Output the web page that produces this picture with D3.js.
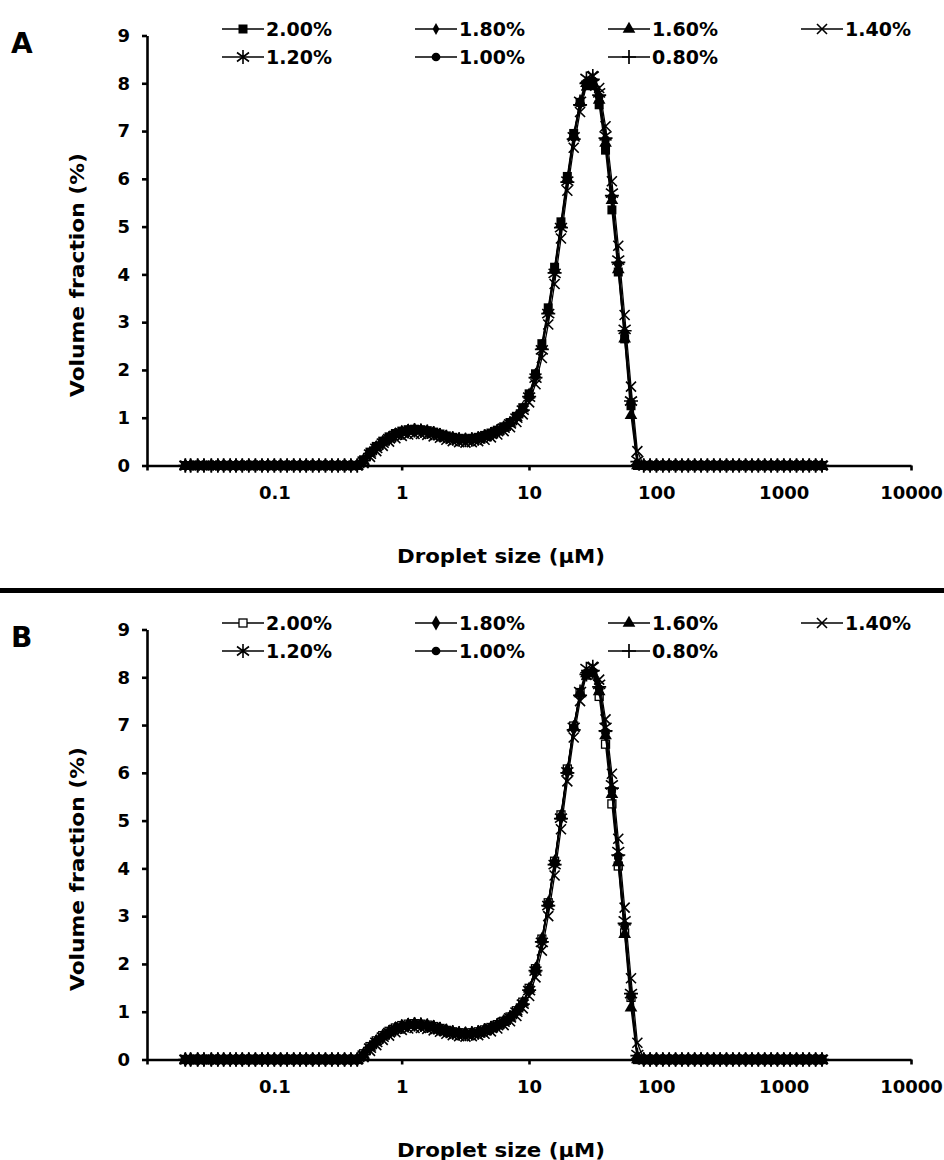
<!DOCTYPE html>
<html><head><meta charset="utf-8">
<script src="https://cdn.jsdelivr.net/npm/d3@7"></script>
<style>body{margin:0;background:#fff}svg{display:block}</style>
</head><body>
<svg id="chart" width="944" height="1160"></svg>
<script>
// Droplet size bins (µm)
const sizes = [
0.020,0.022,0.025,0.028,0.032,0.036,0.040,0.045,0.050,0.056,
0.063,0.071,0.080,0.089,0.100,0.112,0.126,0.142,0.159,0.178,
0.200,0.224,0.252,0.283,0.317,0.356,0.399,0.448,0.502,0.564,
0.632,0.710,0.796,0.893,1.002,1.125,1.262,1.416,1.589,1.783,
2.000,2.244,2.518,2.825,3.170,3.557,3.991,4.477,5.024,5.637,
6.325,7.096,7.962,8.934,10.024,11.247,12.619,14.159,15.887,17.825,
20.000,22.440,25.179,28.251,31.698,35.566,39.905,44.774,50.238,56.368,
63.246,70.963,79.621,89.337,100.237,112.468,126.191,141.589,158.866,178.250,
200.000,224.404,251.785,282.508,316.979,355.656,399.052,447.744,502.377,563.677,
632.456,709.627,796.214,893.367,1002.374,1124.683,1261.915,1415.892,1588.656,1782.502,
2000.000];

const seriesNames = ["2.00%","1.80%","1.60%","1.40%","1.20%","1.00%","0.80%"];
const xTicks = [0.01,0.1,1,10,100,1000,10000];
const xTickLabels = ["","0.1","1","10","100","1000","10000"];
const yTicks = [0,1,2,3,4,5,6,7,8,9];

// Panel A volume fractions (%)
const a200 = [0,0,0,0,0,0,0,0,0,0,0,0,0,0,0,0,0,0,0,0,0,0,0,0,0,0,0,0,
0.12,0.28,0.40,0.51,0.60,0.67,0.72,0.75,0.76,0.75,0.73,0.70,0.66,0.62,0.59,0.57,0.56,0.57,0.59,0.63,0.68,0.74,0.81,0.90,1.03,1.21,1.50,1.92,2.55,3.30,4.15,5.10,6.05,6.95,7.60,7.95,7.95,7.55,6.60,5.35,4.05,2.65,1.25,0.00,
0,0,0,0,0,0,0,0,0,0,0,0,0,0,0,0,0,0,0,0,0,0,0,0,0,0,0,0,0];
const a180 = [0,0,0,0,0,0,0,0,0,0,0,0,0,0,0,0,0,0,0,0,0,0,0,0,0,0,0,0,
0.10,0.25,0.37,0.48,0.57,0.64,0.69,0.72,0.74,0.73,0.71,0.68,0.64,0.60,0.57,0.55,0.54,0.55,0.57,0.61,0.66,0.72,0.79,0.88,1.00,1.17,1.45,1.85,2.45,3.20,4.05,5.00,5.95,6.85,7.55,8.00,8.05,7.70,6.80,5.60,4.20,2.80,1.30,0.05,
0,0,0,0,0,0,0,0,0,0,0,0,0,0,0,0,0,0,0,0,0,0,0,0,0,0,0,0,0];
const a160 = [0,0,0,0,0,0,0,0,0,0,0,0,0,0,0,0,0,0,0,0,0,0,0,0,0,0,0,0,
0.10,0.26,0.38,0.49,0.58,0.65,0.70,0.73,0.74,0.73,0.71,0.68,0.64,0.60,0.57,0.55,0.54,0.55,0.57,0.61,0.66,0.72,0.79,0.89,1.01,1.19,1.48,1.90,2.50,3.25,4.10,5.05,6.00,6.90,7.60,8.00,8.00,7.65,6.75,5.55,4.10,2.65,1.05,0.00,
0,0,0,0,0,0,0,0,0,0,0,0,0,0,0,0,0,0,0,0,0,0,0,0,0,0,0,0,0];
const a140 = [0,0,0,0,0,0,0,0,0,0,0,0,0,0,0,0,0,0,0,0,0,0,0,0,0,0,0,0,
0.05,0.18,0.30,0.41,0.50,0.57,0.62,0.65,0.66,0.66,0.64,0.61,0.58,0.54,0.51,0.49,0.48,0.49,0.51,0.54,0.59,0.65,0.72,0.80,0.91,1.07,1.32,1.70,2.25,2.95,3.80,4.75,5.75,6.65,7.40,7.95,8.15,7.90,7.10,5.95,4.60,3.15,1.65,0.30,
0,0,0,0,0,0,0,0,0,0,0,0,0,0,0,0,0,0,0,0,0,0,0,0,0,0,0,0,0];
const a120 = [0,0,0,0,0,0,0,0,0,0,0,0,0,0,0,0,0,0,0,0,0,0,0,0,0,0,0,0,
0.09,0.24,0.36,0.47,0.56,0.63,0.68,0.71,0.73,0.72,0.70,0.67,0.63,0.59,0.56,0.54,0.53,0.54,0.56,0.60,0.65,0.71,0.78,0.87,0.99,1.16,1.43,1.83,2.42,3.18,4.02,4.98,5.95,6.88,7.62,8.10,8.15,7.80,6.90,5.70,4.30,2.85,1.35,0.10,
0,0,0,0,0,0,0,0,0,0,0,0,0,0,0,0,0,0,0,0,0,0,0,0,0,0,0,0,0];
const a100 = [0,0,0,0,0,0,0,0,0,0,0,0,0,0,0,0,0,0,0,0,0,0,0,0,0,0,0,0,
0.11,0.26,0.38,0.49,0.58,0.65,0.70,0.73,0.75,0.74,0.72,0.69,0.65,0.61,0.58,0.56,0.55,0.56,0.58,0.62,0.67,0.73,0.80,0.89,1.01,1.18,1.46,1.87,2.48,3.22,4.08,5.02,5.98,6.87,7.58,8.02,8.05,7.72,6.82,5.62,4.22,2.78,1.32,0.05,
0,0,0,0,0,0,0,0,0,0,0,0,0,0,0,0,0,0,0,0,0,0,0,0,0,0,0,0,0];
const a080 = [0,0,0,0,0,0,0,0,0,0,0,0,0,0,0,0,0,0,0,0,0,0,0,0,0,0,0,0,
0.10,0.25,0.37,0.48,0.57,0.64,0.69,0.72,0.74,0.73,0.71,0.68,0.64,0.60,0.57,0.55,0.54,0.55,0.57,0.61,0.66,0.72,0.79,0.88,1.00,1.16,1.44,1.84,2.43,3.18,4.03,4.98,5.93,6.83,7.55,8.00,8.08,7.75,6.85,5.65,4.25,2.82,1.35,0.08,
0,0,0,0,0,0,0,0,0,0,0,0,0,0,0,0,0,0,0,0,0,0,0,0,0,0,0,0,0];

// Panel B volume fractions (%)
const b200 = [0,0,0,0,0,0,0,0,0,0,0,0,0,0,0,0,0,0,0,0,0,0,0,0,0,0,0,0,
0.12,0.27,0.39,0.50,0.59,0.66,0.71,0.74,0.75,0.74,0.72,0.69,0.65,0.61,0.58,0.56,0.55,0.56,0.58,0.62,0.67,0.73,0.80,0.89,1.02,1.20,1.49,1.90,2.52,3.28,4.15,5.12,6.08,6.98,7.68,8.05,8.05,7.60,6.60,5.35,4.05,2.65,1.30,0.00,
0,0,0,0,0,0,0,0,0,0,0,0,0,0,0,0,0,0,0,0,0,0,0,0,0,0,0,0,0];
const b180 = [0,0,0,0,0,0,0,0,0,0,0,0,0,0,0,0,0,0,0,0,0,0,0,0,0,0,0,0,
0.10,0.25,0.37,0.48,0.57,0.64,0.69,0.72,0.74,0.73,0.71,0.68,0.64,0.60,0.57,0.55,0.54,0.55,0.57,0.61,0.66,0.72,0.79,0.88,1.00,1.17,1.46,1.87,2.48,3.24,4.10,5.06,6.02,6.92,7.64,8.08,8.12,7.75,6.82,5.60,4.20,2.78,1.30,0.05,
0,0,0,0,0,0,0,0,0,0,0,0,0,0,0,0,0,0,0,0,0,0,0,0,0,0,0,0,0];
const b160 = [0,0,0,0,0,0,0,0,0,0,0,0,0,0,0,0,0,0,0,0,0,0,0,0,0,0,0,0,
0.10,0.26,0.38,0.49,0.58,0.65,0.70,0.73,0.74,0.73,0.71,0.68,0.64,0.60,0.57,0.55,0.54,0.55,0.57,0.61,0.66,0.72,0.79,0.89,1.01,1.19,1.48,1.90,2.52,3.28,4.14,5.10,6.06,6.96,7.66,8.08,8.08,7.70,6.78,5.55,4.12,2.62,1.08,0.00,
0,0,0,0,0,0,0,0,0,0,0,0,0,0,0,0,0,0,0,0,0,0,0,0,0,0,0,0,0];
const b140 = [0,0,0,0,0,0,0,0,0,0,0,0,0,0,0,0,0,0,0,0,0,0,0,0,0,0,0,0,
0.05,0.18,0.30,0.41,0.50,0.57,0.62,0.65,0.66,0.66,0.64,0.61,0.58,0.54,0.51,0.49,0.48,0.49,0.51,0.54,0.59,0.65,0.72,0.80,0.91,1.07,1.33,1.72,2.28,3.00,3.85,4.82,5.82,6.74,7.50,8.05,8.22,7.95,7.12,5.98,4.62,3.18,1.70,0.35,
0,0,0,0,0,0,0,0,0,0,0,0,0,0,0,0,0,0,0,0,0,0,0,0,0,0,0,0,0];
const b120 = [0,0,0,0,0,0,0,0,0,0,0,0,0,0,0,0,0,0,0,0,0,0,0,0,0,0,0,0,
0.09,0.24,0.36,0.47,0.56,0.63,0.68,0.71,0.73,0.72,0.70,0.67,0.63,0.59,0.56,0.54,0.53,0.54,0.56,0.60,0.65,0.71,0.78,0.87,0.99,1.16,1.44,1.85,2.45,3.22,4.08,5.05,6.02,6.95,7.70,8.18,8.22,7.85,6.95,5.75,4.35,2.90,1.38,0.10,
0,0,0,0,0,0,0,0,0,0,0,0,0,0,0,0,0,0,0,0,0,0,0,0,0,0,0,0,0];
const b100 = [0,0,0,0,0,0,0,0,0,0,0,0,0,0,0,0,0,0,0,0,0,0,0,0,0,0,0,0,
0.11,0.26,0.38,0.49,0.58,0.65,0.70,0.73,0.75,0.74,0.72,0.69,0.65,0.61,0.58,0.56,0.55,0.56,0.58,0.62,0.67,0.73,0.80,0.89,1.01,1.18,1.47,1.89,2.50,3.26,4.12,5.08,6.04,6.94,7.66,8.10,8.12,7.76,6.85,5.65,4.25,2.80,1.34,0.05,
0,0,0,0,0,0,0,0,0,0,0,0,0,0,0,0,0,0,0,0,0,0,0,0,0,0,0,0,0];
const b080 = [0,0,0,0,0,0,0,0,0,0,0,0,0,0,0,0,0,0,0,0,0,0,0,0,0,0,0,0,
0.10,0.25,0.37,0.48,0.57,0.64,0.69,0.72,0.74,0.73,0.71,0.68,0.64,0.60,0.57,0.55,0.54,0.55,0.57,0.61,0.66,0.72,0.79,0.88,1.00,1.16,1.45,1.86,2.46,3.22,4.08,5.04,6.00,6.90,7.62,8.06,8.14,7.80,6.88,5.68,4.28,2.85,1.38,0.08,
0,0,0,0,0,0,0,0,0,0,0,0,0,0,0,0,0,0,0,0,0,0,0,0,0,0,0,0,0];

const markersA = ["squareFilled","diamondSmall","triangle","x","asterisk","circle","plus"];
const markersB = ["squareOpen","diamond","triangle","x","asterisk","circle","plus"];

const panels = [
  {label:"A", dy:0,   series:[a200,a180,a160,a140,a120,a100,a080], markers:markersA},
  {label:"B", dy:594, series:[b200,b180,b160,b140,b120,b100,b080], markers:markersB}
];

const FONT = "'DejaVu Sans', sans-serif";
const svg = d3.select("#chart");
svg.append("rect").attr("width",944).attr("height",1160).attr("fill","#fff");

const x = d3.scaleLog().domain([0.01,10000]).range([147,911]);

function marker(g, type, cx, cy){
  const t = `translate(${cx},${cy})`;
  switch(type){
    case "squareFilled":
      g.append("rect").attr("x",cx-4.5).attr("y",cy-4.5).attr("width",9).attr("height",9).attr("fill","#000"); break;
    case "squareOpen":
      g.append("rect").attr("x",cx-4).attr("y",cy-4).attr("width",8).attr("height",8).attr("fill","#fff").attr("stroke","#000").attr("stroke-width",1.3); break;
    case "diamondSmall":
      g.append("path").attr("d",d3.symbol(d3.symbolDiamond,40)()).attr("transform",t).attr("fill","#000"); break;
    case "diamond":
      g.append("path").attr("d",d3.symbol(d3.symbolDiamond,64)()).attr("transform",t).attr("fill","#000"); break;
    case "triangle":
      g.append("path").attr("d",d3.symbol(d3.symbolTriangle,70)()).attr("transform",t).attr("fill","#000"); break;
    case "circle":
      g.append("path").attr("d",d3.symbol(d3.symbolCircle,60)()).attr("transform",t).attr("fill","#000"); break;
    case "x":
      g.append("path").attr("d","M-5,-5L5,5M-5,5L5,-5").attr("transform",t).attr("stroke","#000").attr("stroke-width",1.6).attr("fill","none"); break;
    case "asterisk":
      g.append("path").attr("d","M-6,-4.5L6,4.5M-6,4.5L6,-4.5M0,-7L0,7").attr("transform",t).attr("stroke","#000").attr("stroke-width",1.6).attr("fill","none"); break;
    case "plus":
      g.append("path").attr("d","M-7,0H7M0,-7V7").attr("transform",t).attr("stroke","#000").attr("stroke-width",1.7).attr("fill","none"); break;
  }
}

panels.forEach(p => {
  const y = d3.scaleLinear().domain([0,9]).range([465.5+p.dy, 35.5+p.dy]);
  const g = svg.append("g");

  g.append("text").attr("x",11).attr("y",53+p.dy).text(p.label)
    .attr("font-family",FONT).attr("font-weight","bold").attr("font-size",28).attr("fill","#000");

  const yAxis = d3.axisLeft(y).tickValues(yTicks).tickFormat(d3.format("d")).tickSize(5).tickSizeOuter(0).tickPadding(12);
  const ya = g.append("g").attr("transform",`translate(${x(0.01)},0)`).call(yAxis);
  const xAxis = d3.axisBottom(x).tickValues(xTicks).tickFormat((d,i)=>xTickLabels[i]).tickSize(5).tickSizeOuter(0).tickPadding(16);
  const xa = g.append("g").attr("transform",`translate(0,${y(0)})`).call(xAxis);
  [ya,xa].forEach(a=>{
    a.select(".domain").attr("stroke","#000").attr("stroke-width",2.6);
    a.selectAll(".tick line").attr("stroke","#000").attr("stroke-width",2.6);
    a.selectAll(".tick text").attr("font-family",FONT).attr("font-weight","bold").attr("font-size",18).attr("fill","#000");
  });

  g.append("text").attr("transform",`translate(84,${275+p.dy}) rotate(-90)`).attr("text-anchor","middle")
    .attr("font-family",FONT).attr("font-weight","bold").attr("font-size",19).attr("fill","#000")
    .attr("textLength",244).attr("lengthAdjust","spacingAndGlyphs").text("Volume fraction (%)");
  g.append("text").attr("x",501).attr("y",563+p.dy).attr("text-anchor","middle")
    .attr("font-family",FONT).attr("font-weight","bold").attr("font-size",19).attr("fill","#000")
    .attr("textLength",208).attr("lengthAdjust","spacingAndGlyphs").text("Droplet size (μM)");

  const line = d3.line().x((d,i)=>x(sizes[i])).y(d=>y(d));
  p.series.forEach((vals,si)=>{
    const sg = g.append("g");
    sg.append("path").attr("d",line(vals)).attr("fill","none").attr("stroke","#000").attr("stroke-width",1.3);
    vals.forEach((v,i)=> marker(sg, p.markers[si], x(sizes[i]), y(v)));
  });

  const colX = [222,415,608,801];
  const rowY = [29+p.dy, 57+p.dy];
  seriesNames.forEach((name,i)=>{
    const lx = colX[i%4], ly = rowY[Math.floor(i/4)];
    const lg = g.append("g");
    lg.append("line").attr("x1",lx).attr("x2",lx+42).attr("y1",ly).attr("y2",ly).attr("stroke","#000").attr("stroke-width",1.6);
    marker(lg, p.markers[i], lx+21, ly);
    lg.append("text").attr("x",lx+44).attr("y",ly+7).text(name)
      .attr("font-family",FONT).attr("font-weight","bold").attr("font-size",19).attr("fill","#000");
  });
});

svg.append("rect").attr("x",0).attr("y",588).attr("width",944).attr("height",5).attr("fill","#000");
</script>
</body></html>
